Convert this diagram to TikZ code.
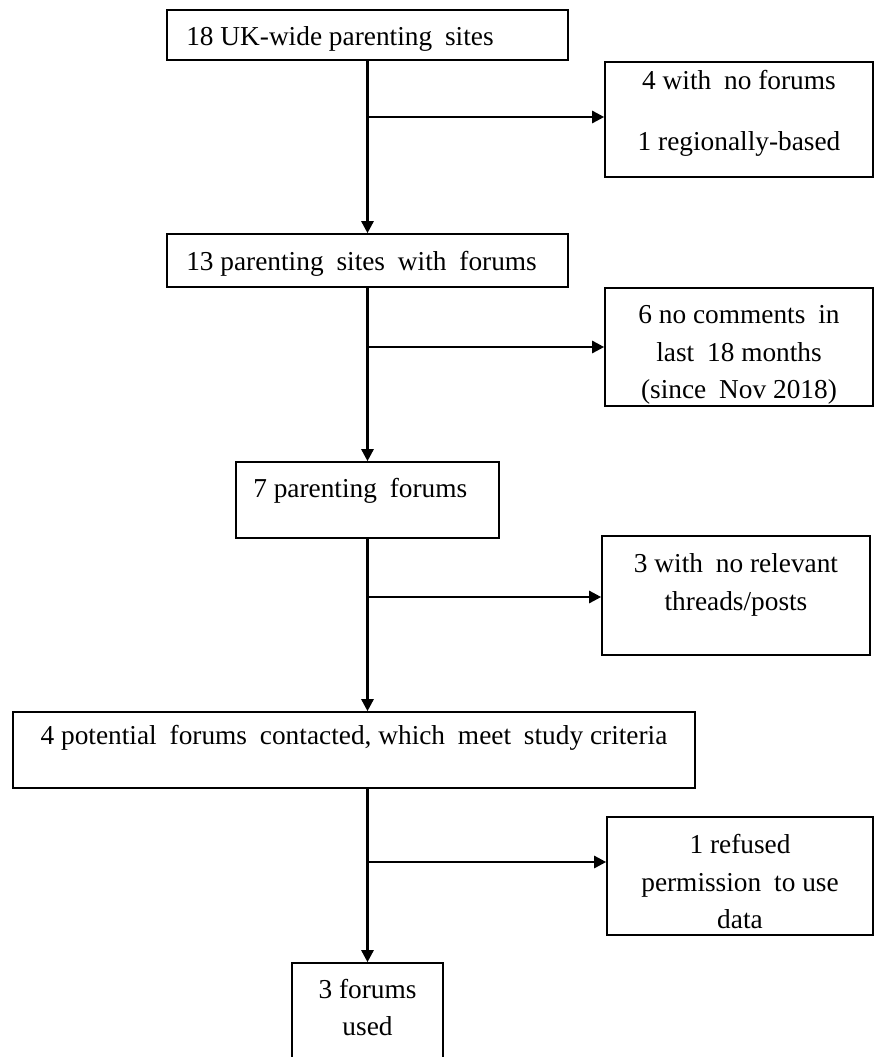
\documentclass[tikz,border=0pt]{standalone}
\usepackage{fontspec}
\setmainfont{Liberation Serif}
\usetikzlibrary{arrows.meta,fit}
\newcommand\xs{\hspace{0.22em}}
\tikzset{
  box/.style={draw=black, line width=1.2pt, inner sep=0pt, fill=white},
  txt/.style={inner sep=0pt, anchor=base, font=\fontsize{20.5}{24}\selectfont},
  ltxt/.style={txt, anchor=base west},
  conn/.style={draw=black, line width=1.9pt, -{Triangle[length=9pt,width=9pt]}},
}
\begin{document}
\begin{tikzpicture}[x=0.75pt,y=-0.75pt]
\clip (0,0) rectangle (875,1057);
\fill[white] (0,0) rectangle (875,1057);
% main column boxes
\node[box, fit={(167,10)(568,60)}] (b1) {};
\node[box, fit={(167,234)(568,287)}] (b2) {};
\node[box, fit={(236,462)(499,538)}] (b3) {};
\node[box, fit={(13,712)(695,788)}] (b4) {};
\node[box, fit={(292,963)(443,1075)}] (b5) {};
% side boxes
\node[box, fit={(605,62)(873,177)}] (r1) {};
\node[box, fit={(605,288)(873,406)}] (r2) {};
\node[box, fit={(602,536)(870,655)}] (r3) {};
\node[box, fit={(607,817)(873,935)}] (r4) {};
% texts
\node[ltxt] (t1) at (186,45) {18 UK-wide parenting\xs\ sites};
\node[ltxt] (t2) at (186,270) {13 parenting\xs\ sites\xs\ with\xs\ forums};
\node[ltxt] (t3) at (253,497) {7 parenting\xs\ forums};
\node[txt] (t4) at (354,744) {4 potential\xs\ forums\xs\ contacted, which\xs\ meet\xs\ study criteria};
\node[txt] (t5a) at (367.5,998) {3 forums};
\node[txt] (t5b) at (367.5,1035) {used};
\node[txt] (s1a) at (739,89) {4 with\xs\ no forums};
\node[txt] (s1b) at (739,150) {1 regionally-based};
\node[txt] (s2a) at (739,323) {6 no comments\xs\ in};
\node[txt] (s2b) at (739,361) {last\xs\ 18 months};
\node[txt] (s2c) at (739,398) {(since\xs\ Nov 2018)};
\node[txt] (s3a) at (736,572) {3 with\xs\ no relevant};
\node[txt] (s3b) at (736,610) {threads/posts};
\node[txt] (s4a) at (740,853) {1 refused};
\node[txt] (s4b) at (740,891) {permission\xs\ to use};
\node[txt] (s4c) at (740,928) {data};
% junctions on the main line
\coordinate (j1) at (368,117);
\coordinate (j2) at (368,347);
\coordinate (j3) at (368,597);
\coordinate (j4) at (368,862);
% vertical connectors
\draw[conn] (b1.south) -- (b2.north);
\draw[conn] (b2.south) -- (b3.north);
\draw[conn] (b3.south) -- (b3.south |- b4.north);
\draw[conn] (b4.south -| b5.north) -- (b5.north);
% horizontal connectors
\draw[conn] (j1) -- (r1.west |- j1);
\draw[conn] (j2) -- (r2.west |- j2);
\draw[conn] (j3) -- (r3.west |- j3);
\draw[conn] (j4) -- (r4.west |- j4);
\end{tikzpicture}
\end{document}
